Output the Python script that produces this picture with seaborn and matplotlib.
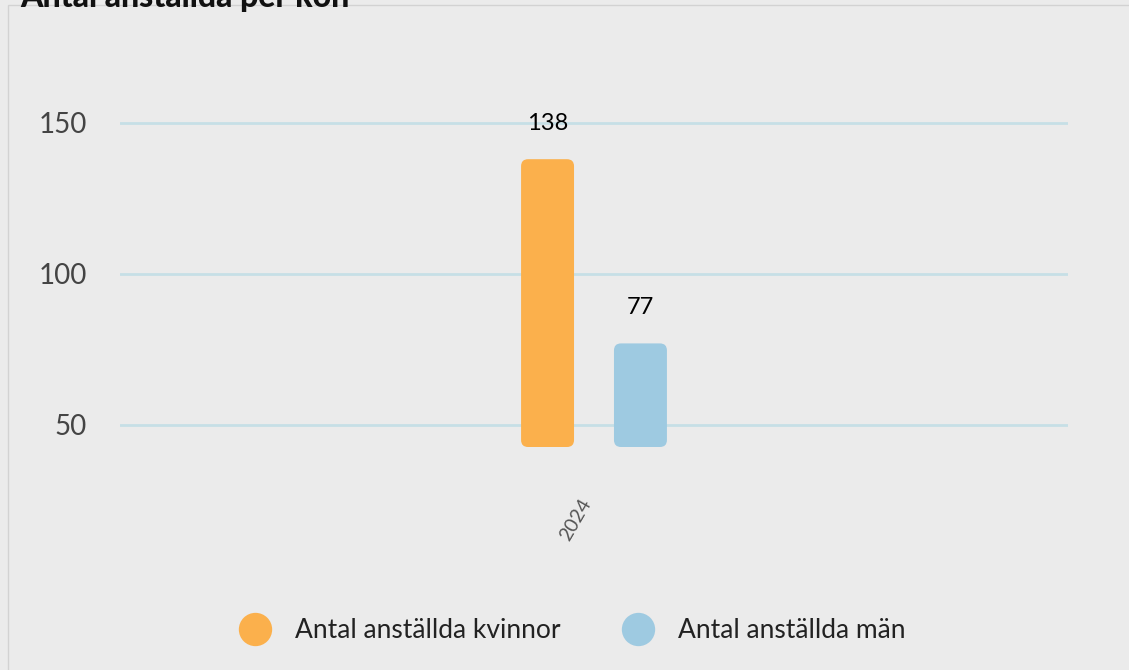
import matplotlib
matplotlib.use("Agg")
import matplotlib.pyplot as plt
import seaborn as sns
import pandas as pd
from matplotlib.patches import FancyBboxPatch, Rectangle
from matplotlib.lines import Line2D

years = ["2024"]
series = ["Antal anställda kvinnor", "Antal anställda män"]
values = [138, 77]
colors = ["#fbb04c", "#9ecae1"]
title = "Antal anställda per kön"
yticks = [50, 100, 150]

df = pd.DataFrame({"year": years * len(series), "series": series, "value": values})

sns.set_theme(style="white")
plt.rcParams["font.family"] = ["Lato", "DejaVu Sans"]

W, H = 1129, 670
fig = plt.figure(figsize=(W / 100, H / 100), dpi=100)
fig.patch.set_facecolor("#ebebeb")

# panel border
fig.add_artist(Rectangle((8 / W, -0.1), 1.2, 1 - 5 / H + 0.1, transform=fig.transFigure,
                         fill=False, edgecolor="#d2d2d2", linewidth=1))
fig.text(20 / W, 1 - 7 / H, title, fontsize=23, fontweight="black", color="#111111",
         ha="left", va="baseline")

ax_l, ax_r, ax_b, ax_t = 120, 1068, 447, 62
ax = fig.add_axes([ax_l / W, 1 - ax_b / H, (ax_r - ax_l) / W, (ax_b - ax_t) / H])
ax.set_facecolor("#ebebeb")

sns.barplot(data=df, x="year", y="value", hue="series", palette=colors, ax=ax,
            width=0.196, gap=0.43, legend=False, saturation=1)

ax.set_xlim(-0.5, 0.5)
ymin = 42.7
ax.set_ylim(ymin, ymin + (ax_b - ax_t) / 3.02)

# round the bars (bars start at the axis floor)
px_x = (ax_r - ax_l) / 1.0
px_y = 3.02
rad_px = 7
bars = list(ax.patches)
for p in bars:
    x = p.get_x()
    w = p.get_width()
    top = p.get_y() + p.get_height()
    fc = p.get_facecolor()
    p.set_visible(False)
    r = rad_px / px_x
    fb = FancyBboxPatch((x, ymin), w, top - ymin, boxstyle=f"round,pad=0,rounding_size={r}",
                        mutation_aspect=px_x / px_y, facecolor=fc, edgecolor="none",
                        zorder=3, clip_on=False)
    ax.add_patch(fb)
    ax.text(x + w / 2, top + 36 / px_y, f"{int(round(top))}", ha="center", va="center",
            fontsize=17, color="#000000", zorder=4)

ax.set_yticks(yticks)
ax.grid(axis="y", color="#c6dfe6", linewidth=2)
ax.grid(axis="x", visible=False)
ax.set_axisbelow(True)
for s in ax.spines.values():
    s.set_visible(False)
ax.set_xlabel("")
ax.set_ylabel("")
ax.tick_params(axis="y", length=0, pad=24, labelsize=20, labelcolor="#444444")
ax.tick_params(axis="x", length=0, pad=35, labelsize=14, labelcolor="#555555")
for lab in ax.get_xticklabels():
    lab.set_rotation(60)
    lab.set_ha("right")

handles = [Line2D([0], [0], marker="o", linestyle="none", markersize=24,
                  markerfacecolor=c, markeredgecolor="none") for c in colors]
fig.legend(handles, series, loc="center", bbox_to_anchor=(567 / W, 1 - 631 / H), ncol=2,
           frameon=False, fontsize=19, labelcolor="#222222", handletextpad=0.5,
           columnspacing=1.95)

fig.savefig("out.png", dpi=100, facecolor=fig.get_facecolor())
